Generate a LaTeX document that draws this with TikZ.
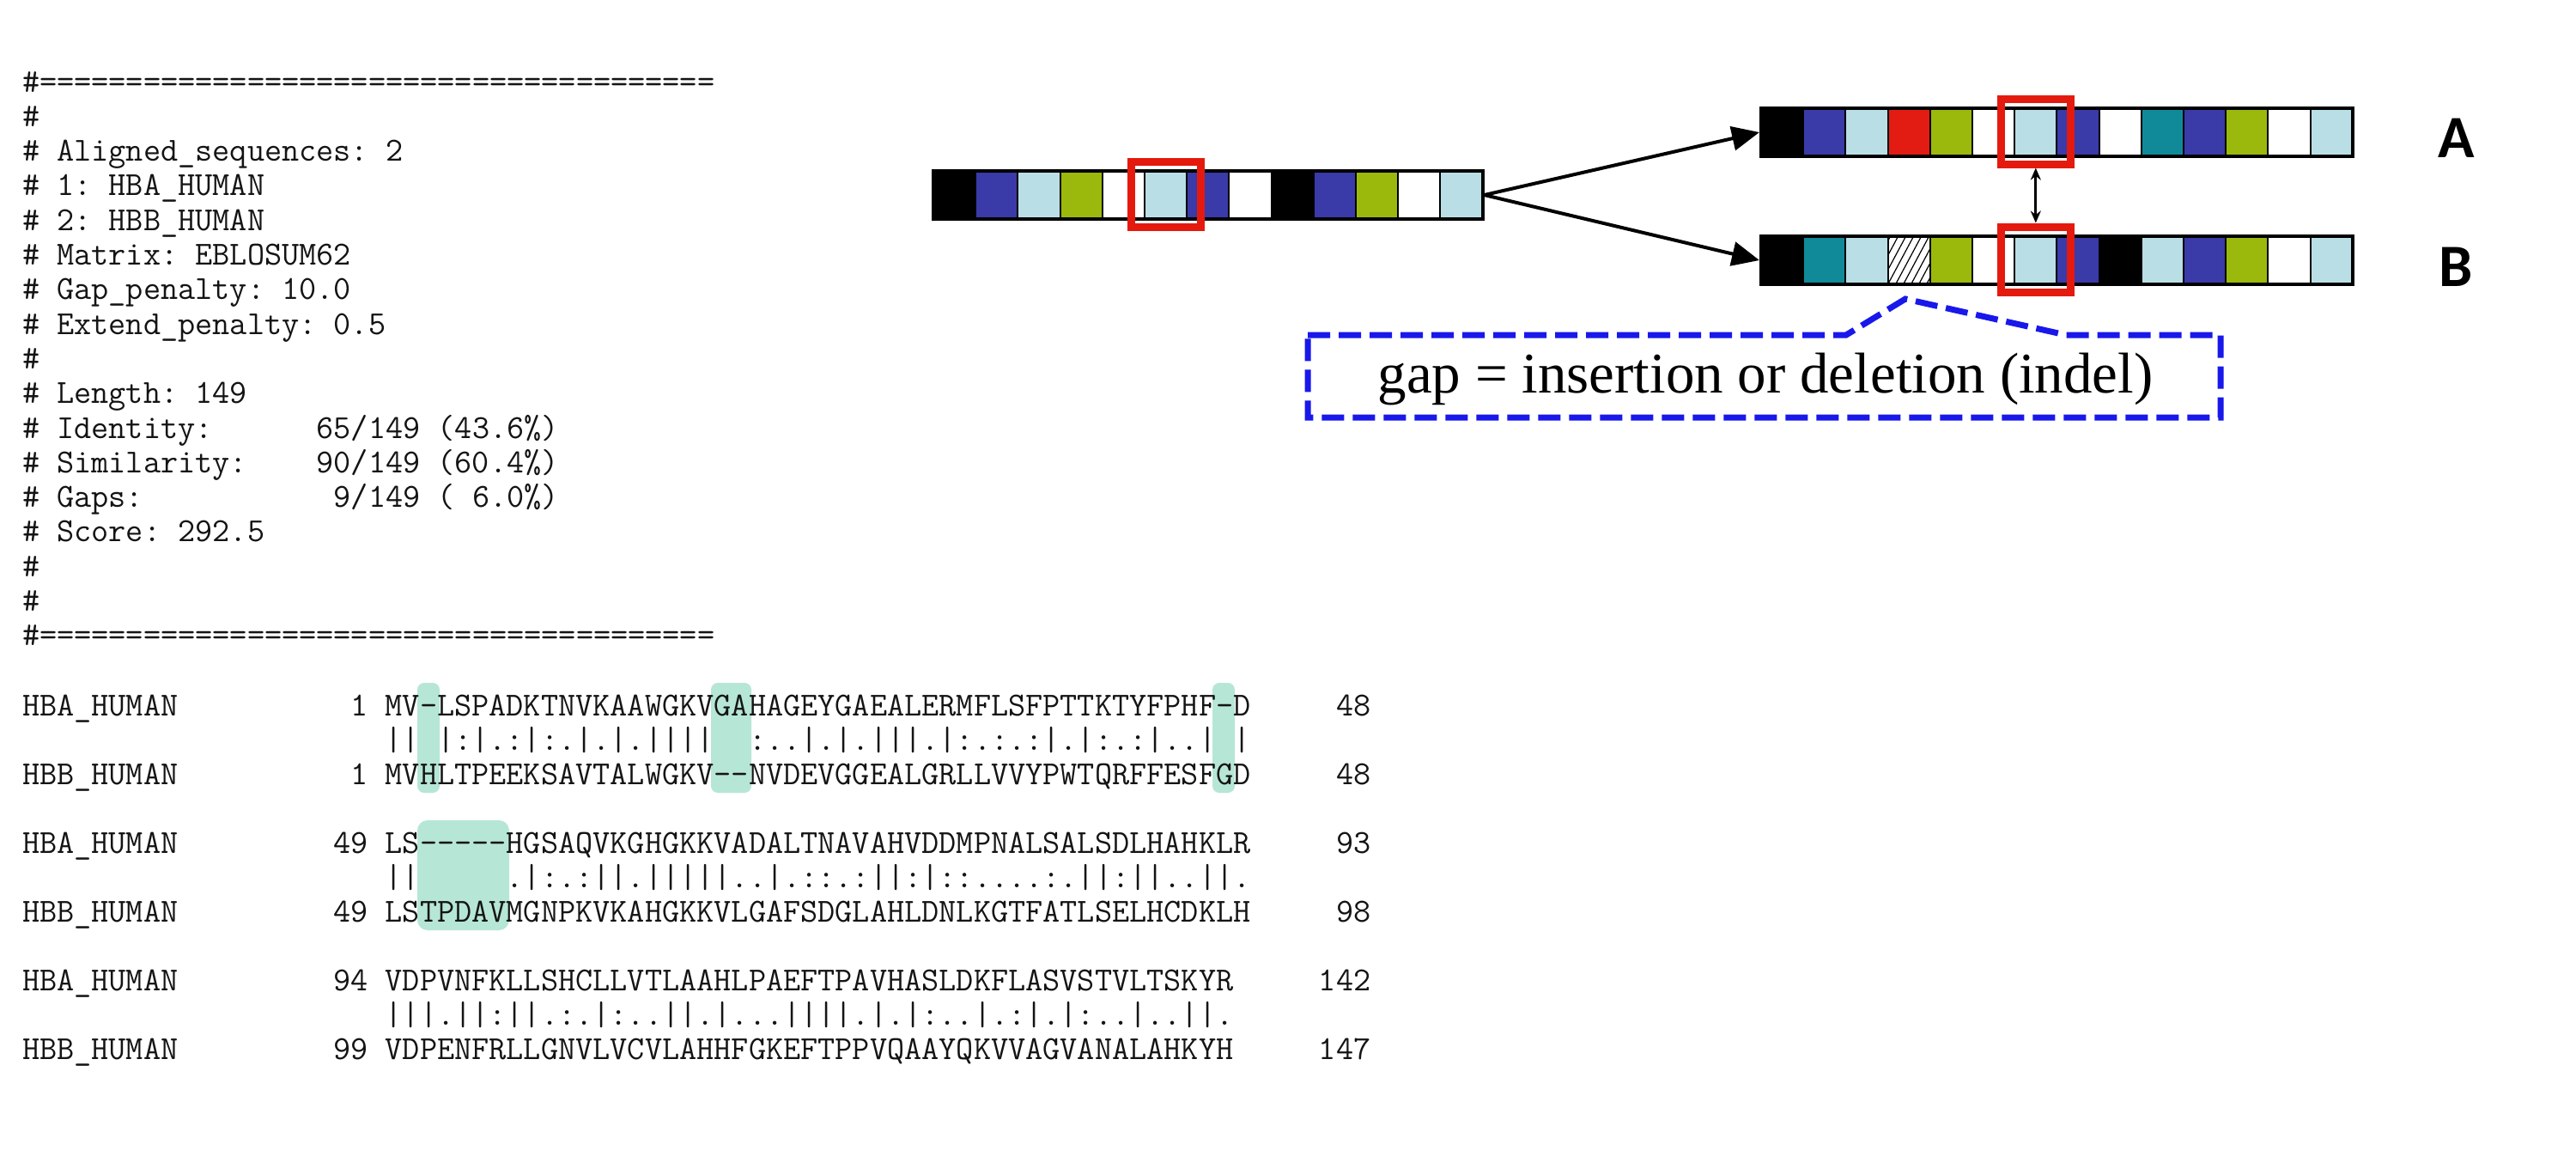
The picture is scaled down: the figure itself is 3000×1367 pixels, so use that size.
\documentclass[tikz,border=0pt]{standalone}
\usepackage{fontspec}
\newfontfamily\serifF{Liberation Serif}
\newfontfamily\labF{Carlito}
\usetikzlibrary{arrows.meta,fit}
\newcommand\hy{-\kern0pt}
\definecolor{cBl}{RGB}{58,58,168}
\definecolor{cLB}{RGB}{186,222,230}
\definecolor{cG}{RGB}{155,185,12}
\definecolor{cR}{RGB}{226,28,18}
\definecolor{cT}{RGB}{16,138,152}
\definecolor{boxred}{RGB}{228,26,14}
\definecolor{dashblue}{RGB}{24,24,235}
\definecolor{hl}{RGB}{182,230,214}
\definecolor{txt}{RGB}{20,20,20}
\begin{document}
\begin{tikzpicture}[x=0.5pt,y=-0.5pt,
  mono/.style={font=\ttfamily\fontsize{19.57pt}{23pt}\selectfont\frenchspacing, inner sep=0pt, outer sep=0pt, anchor=base west, text=txt},
  monor/.style={mono, anchor=base east},
  cellbox/.style={draw=black, line width=1pt},
  barbox/.style={draw=black, line width=2pt, inner sep=0pt},
  redbox/.style={draw=boxred, line width=4.5pt, inner sep=0pt},
  hlbox/.style={fill=hl, rounded corners=4pt},
  bigarrow/.style={draw=black, line width=2pt, -{Triangle[length=16pt,width=14pt]}},
  smallarrow/.style={draw=black, line width=1.5pt, {Stealth[length=7pt,width=6pt]}-{Stealth[length=7pt,width=6pt]}},
  callout/.style={draw=dashblue, line width=3.5pt, dash pattern=on 13pt off 5pt, line join=miter}
]
\fill[white] (0,0) rectangle (3000,1367);
\useasboundingbox (0,0) rectangle (3000,1367);

% ---------- header block ----------
\node[mono] (h0) at (26,107) {\#=======================================};
\node[mono] (h1) at (26,147.3) {\#};
\node[mono] (h2) at (26,187.6) {\#~Aligned\_sequences:~2};
\node[mono] (h3) at (26,227.9) {\#~1:~HBA\_HUMAN};
\node[mono] (h4) at (26,268.2) {\#~2:~HBB\_HUMAN};
\node[mono] (h5) at (26,308.5) {\#~Matrix:~EBLOSUM62};
\node[mono] (h6) at (26,348.8) {\#~Gap\_penalty:~10.0};
\node[mono] (h7) at (26,389.1) {\#~Extend\_penalty:~0.5};
\node[mono] (h8) at (26,429.4) {\#};
\node[mono] (h9) at (26,469.7) {\#~Length:~149};
\node[mono] (h10) at (26,510) {\#~Identity:~~~~~~65/149~(43.6\%)};
\node[mono] (h11) at (26,550.3) {\#~Similarity:~~~~90/149~(60.4\%)};
\node[mono] (h12) at (26,590.6) {\#~Gaps:~~~~~~~~~~~9/149~(~6.0\%)};
\node[mono] (h13) at (26,630.9) {\#~Score:~292.5};
\node[mono] (h14) at (26,671.2) {\#};
\node[mono] (h15) at (26,711.5) {\#};
\node[mono] (h16) at (26,751.8) {\#=======================================};

% ---------- highlights ----------
\fill[hlbox] (486,795) rectangle (512,923);
\fill[hlbox] (828,795) rectangle (875,923);
\fill[hlbox] (1412,795) rectangle (1438,923);
\fill[hlbox, rounded corners=6pt] (486,955) rectangle (593,1083);

% ---------- alignment block 1 ----------
\node[mono] (n1a) at (26,833) {HBA\_HUMAN};
\node[monor] (s1a) at (428.6,833) {1};
\node[mono] (q1a) at (448.7,833) {MV-LSPADKTNVKAAWGKVGAHAGEYGAEALERMFLSFPTTKTYFPHF-D};
\node[monor] (e1a) at (1596.3,833) {48};
\node[mono] (m1) at (448.7,873) {||~|:|.:|:.|.|.||||~~:..|.|.|||.|:.:.:|.|:.:|..|~|};
\node[mono] (n1b) at (26,913) {HBB\_HUMAN};
\node[monor] (s1b) at (428.6,913) {1};
\node[mono] (q1b) at (448.7,913) {MVHLTPEEKSAVTALWGKV\hy\hy NVDEVGGEALGRLLVVYPWTQRFFESFGD};
\node[monor] (e1b) at (1596.3,913) {48};

% ---------- alignment block 2 ----------
\node[mono] (n2a) at (26,993) {HBA\_HUMAN};
\node[monor] (s2a) at (428.6,993) {49};
\node[mono] (q2a) at (448.7,993) {LS\hy\hy\hy\hy\hy HGSAQVKGHGKKVADALTNAVAHVDDMPNALSALSDLHAHKLR};
\node[monor] (e2a) at (1596.3,993) {93};
\node[mono] (m2) at (448.7,1033) {||~~~~~.|:.:||.|||||..|.::.:||:|::....:.||:||..||.};
\node[mono] (n2b) at (26,1073) {HBB\_HUMAN};
\node[monor] (s2b) at (428.6,1073) {49};
\node[mono] (q2b) at (448.7,1073) {LSTPDAVMGNPKVKAHGKKVLGAFSDGLAHLDNLKGTFATLSELHCDKLH};
\node[monor] (e2b) at (1596.3,1073) {98};

% ---------- alignment block 3 ----------
\node[mono] (n3a) at (26,1153) {HBA\_HUMAN};
\node[monor] (s3a) at (428.6,1153) {94};
\node[mono] (q3a) at (448.7,1153) {VDPVNFKLLSHCLLVTLAAHLPAEFTPAVHASLDKFLASVSTVLTSKYR};
\node[monor] (e3a) at (1596.3,1153) {142};
\node[mono] (m3) at (448.7,1193) {|||.||:||.:.|:..||.|...||||.|.|:..|.:|.|:..|..||.};
\node[mono] (n3b) at (26,1233) {HBB\_HUMAN};
\node[monor] (s3b) at (428.6,1233) {99};
\node[mono] (q3b) at (448.7,1233) {VDPENFRLLGNVLVCVLAHHFGKEFTPPVQAAYQKVVAGVANALAHKYH};
\node[monor] (e3b) at (1596.3,1233) {147};

% ---------- sequence bars ----------
\def\cw{49.2}
\foreach \col [count=\i from 0] in {black,cBl,cLB,cG,white,cLB,cBl,white,black,cBl,cG,white,cLB}
  \filldraw[cellbox, fill=\col] ({1087+\i*\cw},199) rectangle ++(\cw,56);
\node[barbox, fit={(1087,199) (1726.6,255)}] (src) {};

\foreach \col [count=\i from 0] in {black,cBl,cLB,cR,cG,white,cLB,cBl,white,cT,cBl,cG,white,cLB}
  \filldraw[cellbox, fill=\col] ({2051+\i*\cw},126) rectangle ++(\cw,56);
\node[barbox, fit={(2051,126) (2739.8,182)}] (seqA) {};

\foreach \col [count=\i from 0] in {black,cT,cLB,white,cG,white,cLB,cBl,black,cLB,cBl,cG,white,cLB}
  \filldraw[cellbox, fill=\col] ({2051+\i*\cw},275) rectangle ++(\cw,56);
\begin{scope}
  \clip (2198.6,275) rectangle (2247.8,331);
  \foreach \k in {-4,...,6}
    \draw[line width=0.6pt] ({2198.6+\k*9},331) -- ++(30,-56);
\end{scope}
\draw[cellbox] (2198.6,275) rectangle (2247.8,331);
\node[barbox, fit={(2051,275) (2739.8,331)}] (seqB) {};

% ---------- red boxes ----------
\node[redbox, fit={(1317,188) (1398.2,264)}] (rS) {};
\node[redbox, fit={(2330.2,115) (2411.4,191)}] (rA) {};
\node[redbox, fit={(2330.2,264) (2411.4,340)}] (rB) {};

% ---------- arrows ----------
\draw[bigarrow] (src.east) -- (seqA.west);
\draw[bigarrow] (src.east) -- (seqB.west);
\draw[smallarrow] (rA.south) -- (rB.north);

% ---------- labels ----------
\node[font=\labF\bfseries\fontsize{35pt}{40pt}\selectfont, anchor=base west, inner sep=0pt] (labA) at (2839,183) {A};
\node[font=\labF\bfseries\fontsize{35pt}{40pt}\selectfont, anchor=base west, inner sep=0pt] (labB) at (2840,333) {B};

% ---------- callout ----------
\draw[callout] (1523,390) -- (2150,390) -- (2219,348) -- (2406,390) -- (2586,390) -- (2586,486) -- (1523,486) -- cycle;
\node[font=\serifF\fontsize{33.5pt}{40pt}\selectfont, anchor=base, inner sep=0pt] (gaptxt) at (2056,457) {gap = insertion or deletion (indel)};
\end{tikzpicture}
\end{document}
